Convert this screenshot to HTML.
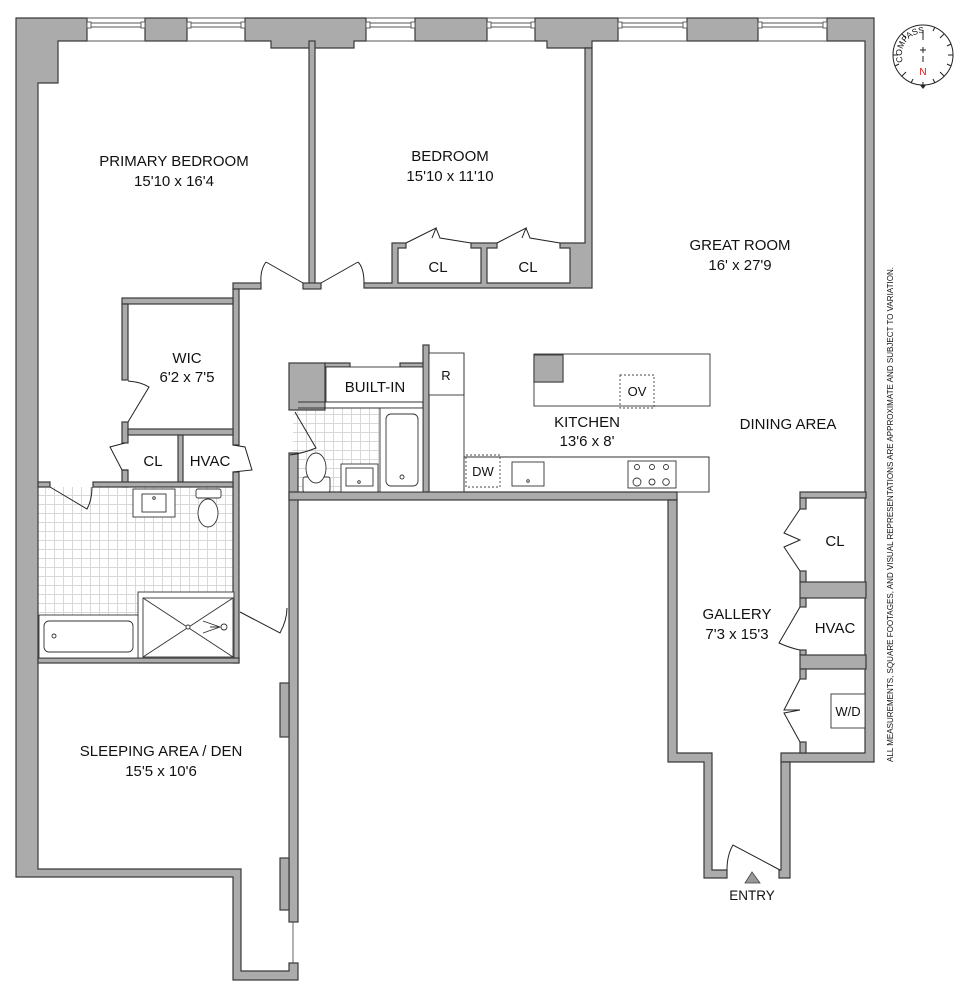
<!DOCTYPE html>
<html><head><meta charset="utf-8"><style>
html,body{margin:0;padding:0;background:#fff;}
svg{display:block;}
text{font-family:"Liberation Sans",Arial,sans-serif;fill:#111;}
</style></head><body>
<svg width="971" height="1000" viewBox="0 0 971 1000" xmlns="http://www.w3.org/2000/svg">
<defs>
<pattern id="tile" width="9" height="9" patternUnits="userSpaceOnUse">
<rect width="9" height="9" fill="#fff"/>
<path d="M0 0.5H9M0.5 0V9" stroke="#d8d8d8" stroke-width="1"/>
</pattern>
</defs>

<!-- tiled floors -->
<rect x="38" y="487" width="195" height="171" fill="url(#tile)"/>
<rect x="293" y="408" width="88" height="84" fill="url(#tile)"/>

<g fill="#ababab" stroke="#3a3a3a" stroke-width="1.2">
<!-- left / den outer wall -->
<polygon points="16,18 87,18 87,41 58,41 58,83 38,83 38,869 241,869 241,971 289,971 289,963 298,963 298,980 233,980 233,877 16,877"/>
<!-- top piers -->
<rect x="145" y="18" width="42" height="23"/>
<polygon points="245,18 366,18 366,41 354,41 354,48 271,48 271,41 245,41"/>
<rect x="415" y="18" width="72" height="23"/>
<polygon points="535,18 618,18 618,41 592,41 592,48 547,48 547,41 535,41"/>
<rect x="687" y="18" width="71" height="23"/>
<polygon points="827,18 874,18 874,762 781,762 781,753 865,753 865,41 827,41"/>
<!-- bedroom divider -->
<rect x="309" y="41" width="6" height="244"/>
<rect x="303" y="283" width="18" height="6"/>
<!-- bedroom right wall + bottom -->
<polygon points="585,48 592,48 592,288 364,288 364,283 392,283 392,243 406,243 406,248 398,248 398,283 481,283 481,248 471,248 471,243 497,243 497,248 487,248 487,283 570,283 570,248 560,248 560,243 585,243"/>
<!-- primary door stub -->
<rect x="233" y="283" width="28" height="6"/>
<!-- corridor / WIC right wall -->
<rect x="233" y="289" width="6" height="156"/>
<rect x="233" y="472" width="6" height="191"/>
<!-- WIC -->
<rect x="122" y="298" width="111" height="6"/>
<rect x="122" y="304" width="6" height="76"/>
<rect x="122" y="422" width="6" height="21"/>
<rect x="122" y="470" width="6" height="17"/>
<rect x="128" y="429" width="105" height="6"/>
<rect x="178" y="435" width="5" height="47"/>
<!-- bath top/bottom -->
<rect x="38" y="482" width="12" height="5"/>
<rect x="93" y="482" width="140" height="5"/>
<rect x="38" y="658" width="201" height="5"/>
<!-- den right wall -->
<rect x="289" y="453" width="9" height="469"/>
<rect x="280" y="683" width="9" height="54"/>
<rect x="280" y="858" width="9" height="52"/>
<!-- guest bath / built-in -->
<rect x="289" y="363" width="36" height="47"/>
<rect x="325" y="363" width="25" height="4"/>
<rect x="400" y="363" width="23" height="4"/>
<rect x="423" y="345" width="6" height="147"/>
<rect x="289" y="492" width="388" height="8"/>
<!-- gallery -->
<polygon points="668,500 677,500 677,753 712,753 712,870 727,870 727,878 704,878 704,762 668,762"/>
<polygon points="781,762 790,762 790,878 779,878 779,870 781,870"/>
<!-- closets column -->
<rect x="800" y="492" width="66" height="6"/>
<rect x="800" y="498" width="6" height="11"/>
<rect x="800" y="571" width="6" height="11"/>
<rect x="800" y="582" width="66" height="16"/>
<rect x="800" y="598" width="6" height="9"/>
<rect x="800" y="650" width="6" height="5"/>
<rect x="800" y="655" width="66" height="14"/>
<rect x="800" y="669" width="6" height="10"/>
<rect x="800" y="742" width="6" height="11"/>
<!-- island grey -->
<rect x="534" y="355" width="29" height="27"/>
</g>

<!-- windows -->
<g stroke="#555" stroke-width="0.9" fill="#fff">
<path d="M87 18H145M87 41H145M187 18H245M187 41H245M366 18H415M366 41H415M487 18H535M487 41H535M618 18H687M618 41H687M758 18H827M758 41H827" fill="none"/>
<path d="M87 23H145M87 27H145M187 23H245M187 27H245M366 23H415M366 27H415M487 23H535M487 27H535M618 23H687M618 27H687M758 23H827M758 27H827" fill="none"/>
<rect x="87" y="22" width="4" height="6"/><rect x="141" y="22" width="4" height="6"/>
<rect x="187" y="22" width="4" height="6"/><rect x="241" y="22" width="4" height="6"/>
<rect x="366" y="22" width="4" height="6"/><rect x="411" y="22" width="4" height="6"/>
<rect x="487" y="22" width="4" height="6"/><rect x="531" y="22" width="4" height="6"/>
<rect x="618" y="22" width="4" height="6"/><rect x="683" y="22" width="4" height="6"/>
<rect x="758" y="22" width="4" height="6"/><rect x="823" y="22" width="4" height="6"/>
<path d="M293 922V963" fill="none"/>
</g>

<!-- doors -->
<g stroke="#222" stroke-width="1" fill="none">
<path d="M303 283L266 262M261 283Q260 270 266 262"/>
<path d="M321 283L358 262M364 283Q364 268 358 262"/>
<path d="M406 243L436 228L432 238M436 228L440 238L471 243" />
<path d="M497 243L526 228L522 238M526 228L530 238L560 243"/>
<path d="M128 422L149 387Q141 382 128 381"/>
<path d="M125 443L110 447L122 470L128 470"/>
<path d="M233 445L245 447L252 470L233 472"/>
<path d="M50 487L87 509Q92 500 92 487"/>
<path d="M240 612L280 633Q287 620 287 608"/>
<path d="M295 412L316 448Q304 453 290 455"/>
<path d="M800 509L784 533L800 540L784 547L800 571"/>
<path d="M800 607L779 643Q790 648 800 650"/>
<path d="M800 679L784 710L800 710L784 713L800 742"/>
<path d="M780 870L733 845Q727 855 727 870"/>
</g>

<!-- fixtures -->
<g stroke="#333" stroke-width="0.9" fill="#fff">
<!-- primary bath -->
<rect x="133" y="489" width="42" height="28"/>
<rect x="142" y="494" width="24" height="18"/>
<circle cx="154" cy="498" r="1.3"/>
<rect x="196" y="489" width="25" height="9" rx="2"/>
<ellipse cx="208" cy="513" rx="10" ry="14"/>
<rect x="138" y="592" width="96" height="66"/>
<rect x="143" y="598" width="90" height="59"/>
<path d="M143 598L233 657M233 598L143 657" fill="none"/>
<circle cx="188" cy="627" r="2"/>
<path d="M203 621L220 627L203 633M210 627H220" fill="none"/>
<circle cx="224" cy="627" r="3"/>
<rect x="39" y="615" width="99" height="43"/>
<rect x="44" y="621" width="89" height="31" rx="5"/>
<circle cx="54" cy="636" r="2"/>
<!-- guest bath -->
<rect x="326" y="367" width="97" height="35"/>
<path d="M298 402H423M298 408H423" fill="none"/>
<rect x="380" y="408" width="43" height="84"/>
<rect x="386" y="414" width="32" height="72" rx="5"/>
<circle cx="402" cy="477" r="2"/>
<rect x="341" y="464" width="37" height="28"/>
<rect x="346" y="468" width="27" height="18"/>
<circle cx="359" cy="482" r="1.3"/>
<rect x="303" y="477" width="27" height="15" rx="2"/>
<ellipse cx="316" cy="468" rx="10" ry="15"/>
<!-- kitchen -->
<rect x="429" y="353" width="35" height="42"/>
<path d="M464 353V457H709V492M464 457V492" fill="none"/>
<rect x="464" y="457" width="245" height="35" fill="none"/>
<rect x="512" y="462" width="32" height="24"/>
<circle cx="528" cy="481" r="1.3"/>
<rect x="628" y="461" width="48" height="27"/>
<circle cx="637" cy="467" r="2.5"/><circle cx="652" cy="467" r="2.5"/><circle cx="666" cy="467" r="2.5"/>
<circle cx="637" cy="482" r="4"/><circle cx="652" cy="482" r="3"/><circle cx="666" cy="482" r="3.3"/>
<rect x="534" y="354" width="176" height="52" fill="none"/>
<rect x="831" y="694" width="34" height="34"/>
</g>
<rect x="534" y="355" width="29" height="27" fill="#ababab" stroke="#3a3a3a"/>
<g stroke="#444" stroke-width="0.9" fill="none" stroke-dasharray="2,2">
<rect x="466" y="455" width="34" height="32"/>
<rect x="620" y="375" width="34" height="33"/>
</g>
<path d="M745 883L752 872L760 883Z" fill="#999" stroke="#444" stroke-width="0.8"/>

<!-- compass -->
<g stroke="#222" stroke-width="1" fill="none">
<circle cx="923" cy="55" r="30"/>
<path d="M923 30V40M923 47V53M920 50H926M923 56V62M923 82V86"/>
<path d="M953 55H948M893 55H898M944 34L940 38M902 34L906 38M944 76L940 72M902 76L906 72M935 27L933 31M911 83L913 79M935 83L933 79M951 44L947 46M951 66L947 64M895 66L899 64"/>
</g>
<path d="M920 85L926 85L923 89Z" fill="#222"/>
<path id="cp" d="M903 62A22 22 0 0 1 935 36" fill="none"/>
<text font-size="8.5"><textPath href="#cp">COMPASS</textPath></text>
<text x="923" y="75" font-size="10" text-anchor="middle" style="fill:#d11">N</text>

<!-- disclaimer -->
<text transform="translate(893,762) rotate(-90)" font-size="8" textLength="495" lengthAdjust="spacingAndGlyphs">ALL MEASUREMENTS, SQUARE FOOTAGES, AND VISUAL REPRESENTATIONS ARE APPROXIMATE AND SUBJECT TO VARIATION.</text>

<!-- labels -->
<g font-size="15" text-anchor="middle">
<text x="174" y="166">PRIMARY BEDROOM</text>
<text x="174" y="186">15'10 x 16'4</text>
<text x="450" y="161">BEDROOM</text>
<text x="450" y="181">15'10 x 11'10</text>
<text x="438" y="272">CL</text>
<text x="528" y="272">CL</text>
<text x="740" y="250">GREAT ROOM</text>
<text x="740" y="270">16' x 27'9</text>
<text x="187" y="363">WIC</text>
<text x="187" y="382">6'2 x 7'5</text>
<text x="153" y="466">CL</text>
<text x="210" y="466">HVAC</text>
<text x="375" y="392">BUILT-IN</text>
<text x="446" y="380" font-size="13">R</text>
<text x="587" y="427">KITCHEN</text>
<text x="587" y="446">13'6 x 8'</text>
<text x="788" y="429">DINING AREA</text>
<text x="483" y="476" font-size="13">DW</text>
<text x="637" y="396" font-size="13">OV</text>
<text x="835" y="546">CL</text>
<text x="835" y="633">HVAC</text>
<text x="848" y="716" font-size="13">W/D</text>
<text x="737" y="619">GALLERY</text>
<text x="737" y="639">7'3 x 15'3</text>
<text x="161" y="756">SLEEPING AREA / DEN</text>
<text x="161" y="776">15'5 x 10'6</text>
<text x="752" y="900" font-size="13.5">ENTRY</text>
</g>
</svg>
</body></html>
